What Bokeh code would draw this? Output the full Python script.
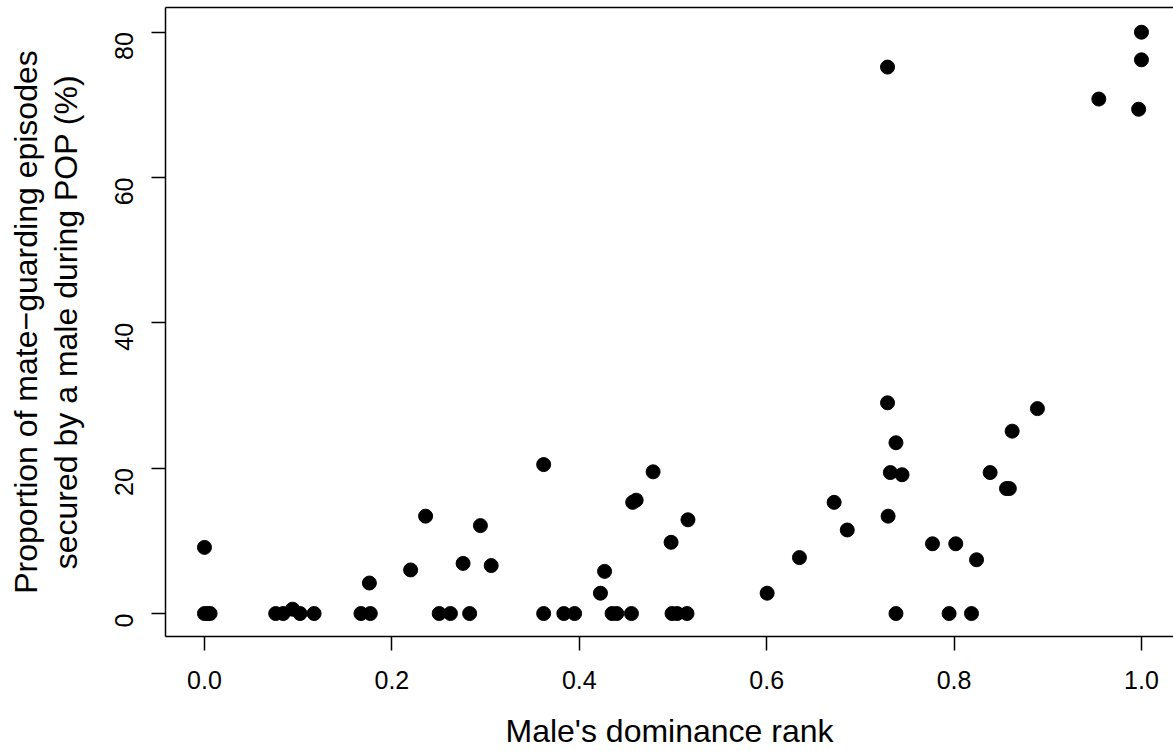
import math
from bokeh.plotting import figure
from bokeh.models import Range1d, LinearAxis, FixedTicker, ColumnDataSource
from bokeh.embed import file_html
from bokeh.resources import INLINE

# Male's dominance rank (x) and proportion of mate-guarding episodes (%) (y)
rank = [0.000, 0.003, 0.006, 0.000,
        0.076, 0.084, 0.094, 0.102, 0.117,
        0.167, 0.177, 0.176, 0.220, 0.236,
        0.2505, 0.2625, 0.276, 0.283, 0.2945, 0.306,
        0.362, 0.362, 0.3835, 0.395,
        0.4226, 0.427, 0.435, 0.440, 0.4557, 0.457, 0.4607, 0.4788,
        0.498, 0.499, 0.5045, 0.515, 0.516,
        0.6005, 0.635, 0.672, 0.686,
        0.729, 0.738, 0.732, 0.7445, 0.7296, 0.738, 0.729,
        0.777, 0.8018, 0.824, 0.7947, 0.8186,
        0.8385, 0.856, 0.859, 0.862, 0.889,
        0.9545, 1.000, 1.000, 0.997]
mate_guard_pct = [0.0, 0.0, 0.0, 9.1,
                  0.0, 0.0, 0.6, 0.0, 0.0,
                  0.0, 0.0, 4.2, 6.0, 13.4,
                  0.0, 0.0, 6.9, 0.0, 12.1, 6.6,
                  20.5, 0.0, 0.0, 0.0,
                  2.8, 5.8, 0.0, 0.0, 0.0, 15.3, 15.6, 19.5,
                  9.8, 0.0, 0.0, 0.0, 12.9,
                  2.8, 7.7, 15.3, 11.5,
                  29.0, 23.5, 19.4, 19.1, 13.4, 0.0, 75.2,
                  9.6, 9.6, 7.4, 0.0, 0.0,
                  19.4, 17.2, 17.2, 25.1, 28.2,
                  70.8, 80.0, 76.2, 69.4]

x_ticks = [0.0, 0.2, 0.4, 0.6, 0.8, 1.0]
x_tick_labels = ["0.0", "0.2", "0.4", "0.6", "0.8", "1.0"]
y_ticks = [0, 20, 40, 60, 80]
y_tick_labels = ["0", "20", "40", "60", "80"]

x_title = "Male's dominance rank"
y_title = "Proportion of mate\u2212guarding episodes\nsecured by a male during POP (%)"

FONT = "Liberation Sans"

src = ColumnDataSource(dict(x=rank, y=mate_guard_pct))

p = figure(width=1173, height=751, output_backend="svg", toolbar_location=None,
           x_range=Range1d(-0.0416, 1.0342), y_range=Range1d(-3.16, 83.4))
p.outline_line_color = None
p.grid.visible = False
p.background_fill_color = "white"
p.border_fill_color = "white"
p.min_border_left = 165
p.min_border_right = 0
p.min_border_top = 7
p.min_border_bottom = 113

p.scatter("x", "y", source=src, size=14, fill_color="black", line_color="black")

for ax in (p.xaxis[0], p.yaxis[0]):
    ax.axis_line_color = "black"
    ax.axis_line_width = 1.5
    ax.major_tick_line_color = "black"
    ax.major_tick_line_width = 1.5
    ax.major_tick_in = 0
    ax.major_tick_out = 14
    ax.minor_tick_line_color = None
    ax.major_label_text_font = FONT
    ax.major_label_text_font_size = "25px"
    ax.major_label_text_color = "black"
    ax.axis_label_text_font = FONT
    ax.axis_label_text_font_size = "32px"
    ax.axis_label_text_font_style = "normal"
    ax.axis_label_text_color = "black"

xa = p.xaxis[0]
xa.ticker = FixedTicker(ticks=x_ticks)
xa.major_label_overrides = {t: l for t, l in zip(x_ticks, x_tick_labels)}
xa.major_label_standoff = 20
xa.axis_label = x_title
xa.axis_label_standoff = 21
xa.axis_label_text_line_height = 1.0

ya = p.yaxis[0]
ya.ticker = FixedTicker(ticks=y_ticks)
ya.major_label_overrides = {t: l for t, l in zip(y_ticks, y_tick_labels)}
ya.major_label_orientation = math.pi / 2
ya.major_label_standoff = 27
ya.axis_label = y_title
ya.axis_label_standoff = 20
ya.axis_label_text_line_height = 1.1

top = LinearAxis(ticker=FixedTicker(ticks=[]), axis_line_color="black", axis_line_width=1.5,
                 major_tick_in=0, major_tick_out=0, minor_tick_line_color=None,
                 major_label_standoff=0, major_label_text_font_size="0px")
p.add_layout(top, "above")

open("out.html", "w").write(file_html(p, INLINE))
